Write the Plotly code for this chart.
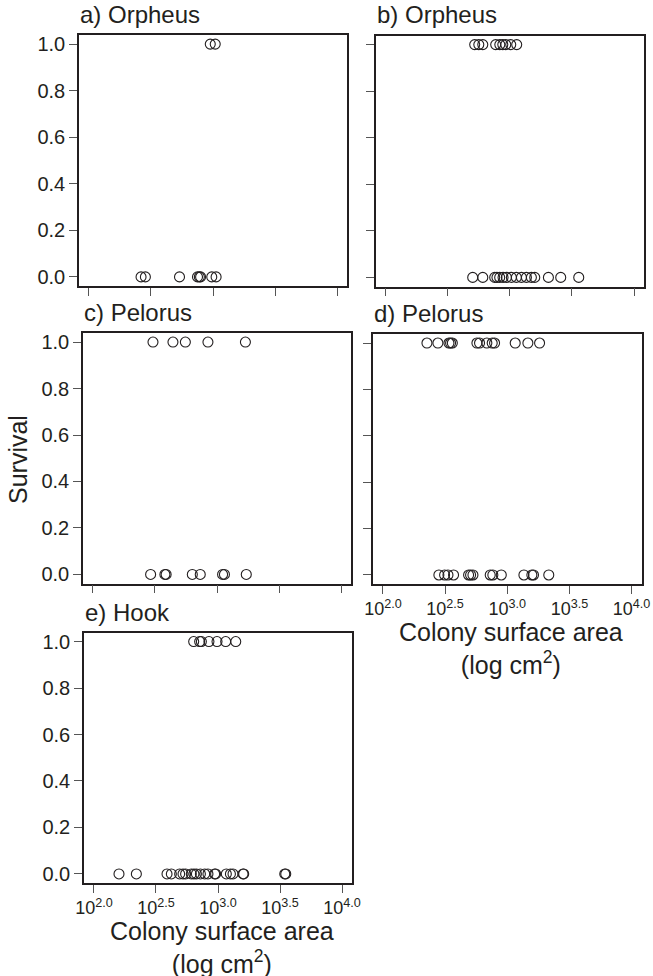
import plotly.graph_objects as go

# log10 colony surface area (cm^2) per panel, split by survival outcome
a_alive = [2.978, 3.018]
a_dead = [2.42, 2.455, 2.73, 2.875, 2.89, 2.90, 2.99, 3.025]

b_alive = [2.718, 2.751, 2.783, 2.887, 2.92, 2.944, 2.968, 3.008, 3.056]
b_dead = [2.702, 2.783, 2.879, 2.897, 2.919, 2.946, 2.973, 3.013, 3.053, 3.094,
          3.134, 3.174, 3.201, 3.311, 3.41, 3.555]

c_alive = [2.484, 2.645, 2.745, 2.927, 3.229]
c_dead = [2.465, 2.58, 2.59, 2.801, 2.865, 3.045, 3.06, 3.236]

d_alive = [2.354, 2.442, 2.531, 2.544, 2.558, 2.756, 2.777, 2.836, 2.879, 2.898,
           3.064, 3.166, 3.26]
d_dead = [2.45, 2.496, 2.523, 2.568, 2.689, 2.705, 2.724, 2.863, 2.884, 2.952,
          3.134, 3.198, 3.211, 3.334]

e_alive = [2.804, 2.852, 2.866, 2.927, 2.992, 3.062, 3.143]
e_dead = [2.202, 2.342, 2.589, 2.624, 2.691, 2.718, 2.739, 2.785, 2.806, 2.826,
          2.858, 2.893, 2.919, 2.973, 2.981, 3.067, 3.10, 3.121, 3.202, 3.207,
          3.538, 3.546]

panel_titles = ["a) Orpheus", "b) Orpheus", "c) Pelorus", "d) Pelorus", "e) Hook"]
x_tick_logs = [2.0, 2.5, 3.0, 3.5, 4.0]
x_tick_text = ["10<sup>2.0</sup>", "10<sup>2.5</sup>", "10<sup>3.0</sup>",
               "10<sup>3.5</sup>", "10<sup>4.0</sup>"]
y_tick_vals = [0.0, 0.2, 0.4, 0.6, 0.8, 1.0]
y_tick_text = ["0.0", "0.2", "0.4", "0.6", "0.8", "1.0"]
x_title = "Colony surface area<br>(log cm<sup>2</sup>)"
y_title = "Survival"

W, H = 653, 976
FONT = "Liberation Sans, Arial, Helvetica, sans-serif"
INK = "#231f20"

# panel boxes in pixels: left, top, right, bottom
boxes = [
    (79, 35, 347, 286),
    (375.5, 35.5, 644, 286.5),
    (83, 333, 351, 583.5),
    (373, 334, 641.5, 584),
    (84, 632.5, 352, 883),
]
datasets = [(a_alive, a_dead), (b_alive, b_dead), (c_alive, c_dead),
            (d_alive, d_dead), (e_alive, e_dead)]
show_xlabels = [False, False, False, True, True]
show_ylabels = [True, False, True, False, True]

fig = go.Figure()
layout = dict(
    width=W, height=H, margin=dict(l=0, r=0, t=0, b=0, autoexpand=False),
    paper_bgcolor="white", plot_bgcolor="white", showlegend=False,
    font=dict(family=FONT, color=INK),
)
annotations = []

for i, ((alive, dead), box) in enumerate(zip(datasets, boxes)):
    n = i + 1
    xs = "x" if n == 1 else f"x{n}"
    ys = "y" if n == 1 else f"y{n}"
    xv = [10 ** v for v in alive + dead]
    yv = [1.0] * len(alive) + [0.0] * len(dead)
    fig.add_trace(go.Scatter(
        x=xv, y=yv, mode="markers", xaxis=xs, yaxis=ys,
        marker=dict(symbol="circle-open", size=10, color=INK,
                    line=dict(width=1.1, color=INK)),
        hoverinfo="skip", cliponaxis=False,
    ))
    l, t, r, b = box
    xd = [l / W, r / W]
    yd = [1 - b / H, 1 - t / H]
    xa = dict(
        domain=xd, type="log", range=[1.92, 4.08], anchor=ys,
        tickvals=[10 ** v for v in x_tick_logs],
        ticktext=x_tick_text,
        showticklabels=show_xlabels[i], automargin=False,
        ticks="outside", ticklen=8, tickwidth=1, tickcolor="#555",
        showline=True, linecolor=INK, linewidth=1.6, mirror=True,
        showgrid=False, zeroline=False,
        tickfont=dict(size=18, family=FONT, color=INK),
    )
    ya = dict(
        domain=yd, range=[-0.039, 1.039], anchor=xs,
        tickvals=y_tick_vals, ticktext=y_tick_text,
        showticklabels=show_ylabels[i], automargin=False,
        ticks="outside", ticklen=8, tickwidth=1, tickcolor="#555",
        showline=True, linecolor=INK, linewidth=1.6, mirror=True,
        showgrid=False, zeroline=False,
        tickfont=dict(size=20, family=FONT, color=INK),
    )
    layout["xaxis" if n == 1 else f"xaxis{n}"] = xa
    layout["yaxis" if n == 1 else f"yaxis{n}"] = ya
    annotations.append(dict(
        text=panel_titles[i], x=(l - 1) / W, y=1 - (t - 5) / H,
        xref="paper", yref="paper", xanchor="left", yanchor="bottom",
        showarrow=False, font=dict(size=24, family=FONT, color=INK),
    ))
    if show_xlabels[i]:
        annotations.append(dict(
            text=x_title, x=((l + r) / 2 + 4) / W, y=1 - (b + 64) / H,
            xref="paper", yref="paper", xanchor="center", yanchor="middle",
            showarrow=False, align="center",
            font=dict(size=25, family=FONT, color=INK),
        ))

annotations.append(dict(
    text=y_title, x=18 / W, y=1 - 460 / H, xref="paper", yref="paper",
    xanchor="center", yanchor="middle", textangle=-90, showarrow=False,
    font=dict(size=25, family=FONT, color=INK),
))
layout["annotations"] = annotations
fig.update_layout(**layout)
fig.write_html("out.html", config={"displayModeBar": False},
               post_script="document.body.style.margin='0';document.body.style.overflow='hidden';")
